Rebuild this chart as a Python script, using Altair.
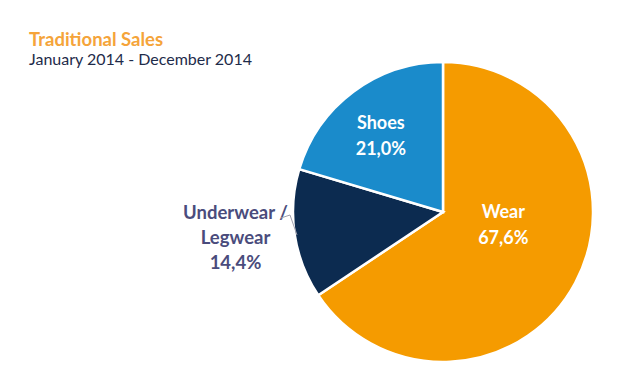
import altair as alt
import pandas as pd

categories = ["Wear", "Underwear / Legwear", "Shoes"]
values = [67.6, 14.4, 21.0]
value_labels = ["67,6%", "14,4%", "21,0%"]
label_lines = ["Wear|67,6%", "Underwear /|Legwear|14,4%", "Shoes|21,0%"]
slice_order = [1, 2, 3]
colors = ["#F59B00", "#0C2B50", "#1A8BCB"]

df = pd.DataFrame({
    "cat": categories,
    "value": values,
    "pct": value_labels,
    "lines": label_lines,
    "order": slice_order,
})

W, H = 624, 361
CX, CY, R = 435, 204, 150

color_scale = alt.Scale(domain=categories, range=colors)

arcs = alt.Chart(df).mark_arc(radius=R, stroke="white", strokeWidth=2.5).encode(
    theta=alt.Theta("value:Q", stack=True),
    color=alt.Color("cat:N", scale=color_scale, legend=None),
    order=alt.Order("order:Q"),
    x=alt.value(CX),
    y=alt.value(CY),
)

base = (
    alt.Chart(df)
    .transform_joinaggregate(total="sum(value)")
    .transform_window(cum="sum(value)", sort=[alt.SortField("order")], frame=[None, 0])
    .transform_calculate(
        mid="(datum.cum - datum.value/2) / datum.total * 2 * PI",
        txt="split(datum.lines, '|')",
    )
)

def label(cat, radius, dx, dy, color, lh, fs):
    return base.transform_filter(alt.datum.cat == cat).mark_text(
        radius=radius, dx=dx, dy=dy, font="Lato", fontWeight="bold", fontSize=fs,
        color=color, lineHeight=lh, align="center", baseline="middle",
    ).encode(
        theta=alt.Theta("mid:Q", scale=None, stack=False),
        text="txt:N",
        x=alt.value(CX),
        y=alt.value(CY),
    )

shoes_lbl = label("Shoes", 99, -3, -9, "white", 26, 18)
wear_lbl = label("Wear", 99, -27, -46, "white", 26, 18)
under_lbl = label("Underwear / Legwear", 222, 12, -32, "#4A4C7C", 25, 18.5)

seg1 = alt.Chart(df).transform_filter(alt.datum.order == 2).mark_rule(
    color="#A0A0AE", strokeWidth=1
).encode(x=alt.value(273), x2=alt.value(282), y=alt.value(210), y2=alt.value(207))
seg2 = alt.Chart(df).transform_filter(alt.datum.order == 2).mark_rule(
    color="#A0A0AE", strokeWidth=1
).encode(x=alt.value(282), x2=alt.value(289), y=alt.value(207), y2=alt.value(227))

title = alt.Chart(df).transform_filter(alt.datum.order == 1).mark_text(
    text="Traditional Sales", font="Lato", fontWeight="bold", fontSize=18.5,
    color="#F5A43A", align="left", baseline="middle",
).encode(x=alt.value(21), y=alt.value(32))

subtitle = alt.Chart(df).transform_filter(alt.datum.order == 1).mark_text(
    text="January 2014 - December 2014", font="Lato", fontSize=16,
    color="#1E2B4A", align="left", baseline="middle",
).encode(x=alt.value(21), y=alt.value(52))

chart = alt.layer(arcs, shoes_lbl, wear_lbl, under_lbl, seg1, seg2, title, subtitle).properties(
    width=W, height=H,
    autosize=alt.AutoSizeParams(type="none"),
    padding=0,
).configure_view(stroke=None)

chart.save("out.html", embed_options={"renderer": "svg", "actions": False})
